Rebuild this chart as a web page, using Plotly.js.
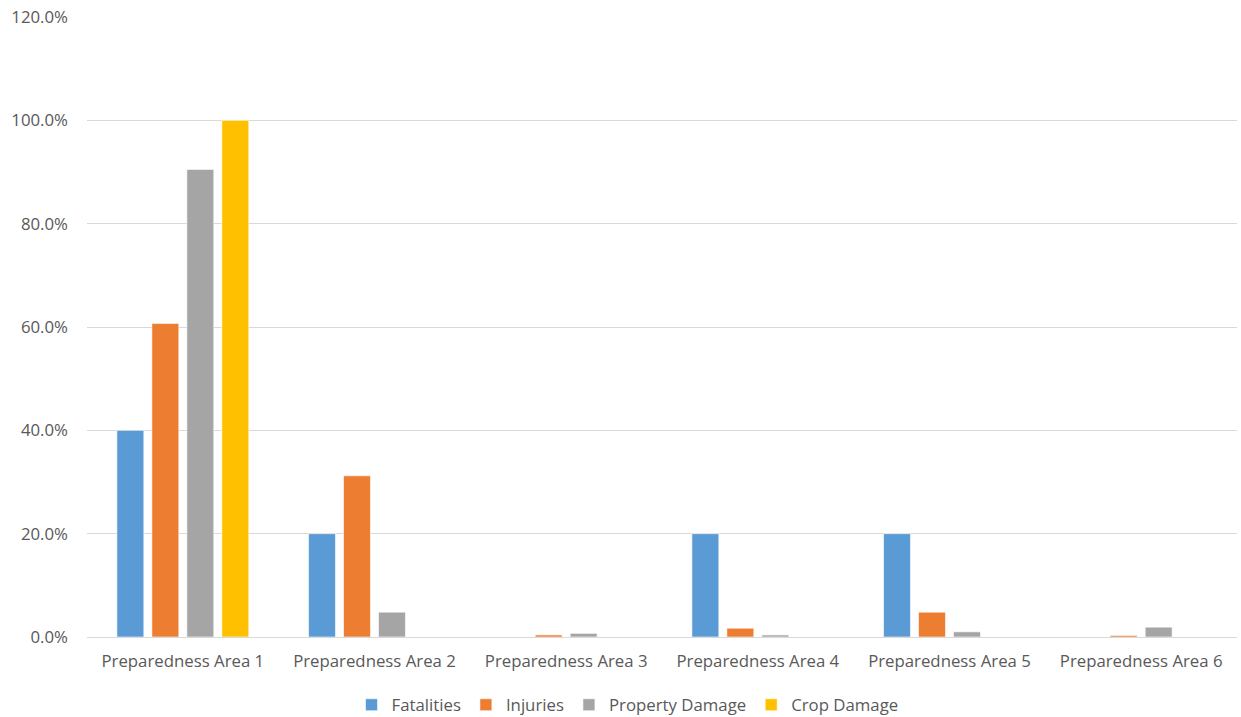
<!DOCTYPE html>
<html>
<head>
<meta charset="utf-8">
<script src="https://cdn.plot.ly/plotly-3.0.1.min.js"></script>
<style>html,body{margin:0;padding:0;background:#fff;}#chart{width:1241px;height:717px;}</style>
</head>
<body>
<div id="chart"></div>
<script>
const categories = ["Preparedness Area 1","Preparedness Area 2","Preparedness Area 3","Preparedness Area 4","Preparedness Area 5","Preparedness Area 6"];
const fatalities = [0.40, 0.20, 0.0, 0.20, 0.20, 0.0];
const injuries = [0.607, 0.312, 0.004, 0.017, 0.048, 0.003];
const propertyDamage = [0.905, 0.048, 0.007, 0.004, 0.010, 0.019];
const cropDamage = [1.0, 0.0, 0.0, 0.0, 0.0, 0.0];
const seriesNames = ["Fatalities","Injuries","Property Damage","Crop Damage"];
const colors = ["#5B9BD5","#ED7D31","#A5A5A5","#FFC000"];
const yTicks = [0, 0.2, 0.4, 0.6, 0.8, 1.0, 1.2];

const data = [fatalities, injuries, propertyDamage, cropDamage].map((vals, i) => ({
  type: 'bar',
  name: seriesNames[i],
  x: categories,
  y: vals,
  marker: {color: colors[i], line: {color: 'rgba(255,255,255,0.6)', width: 1}},
  hoverinfo: 'x+y+name'
}));

const layout = {
  width: 1241, height: 717,
  margin: {l: 87, r: 4, t: 17, b: 80, autoexpand: false},
  paper_bgcolor: '#fff', plot_bgcolor: '#fff',
  font: {family: '"Open Sans", sans-serif', size: 16.8, color: '#595959'},
  barmode: 'group',
  bargap: 0.27,
  bargroupgap: 0.23,
  showlegend: true,
  legend: {orientation: 'h', x: 0.47, xanchor: 'center', xref: 'paper',
           yref: 'container', y: 0.017, yanchor: 'middle',
           font: {size: 16.8, color: '#595959'}, traceorder: 'normal', itemwidth: 16},
  xaxis: {showgrid: false, zeroline: false, showline: true, linecolor: '#D9D9D9', linewidth: 1,
          ticks: '', tickfont: {size: 16.8, color: '#595959'}, ticklabelstandoff: 9},
  yaxis: {range: [0, 1.2], tickvals: yTicks, tickformat: '.1%', showgrid: true,
          gridcolor: '#D9D9D9', gridwidth: 1, zeroline: false, showline: false, ticks: '',
          tickfont: {size: 16.8, color: '#595959'}, ticklabelstandoff: 18}
};

Plotly.newPlot('chart', data, layout, {displayModeBar: false, staticPlot: true});
</script>
</body>
</html>
